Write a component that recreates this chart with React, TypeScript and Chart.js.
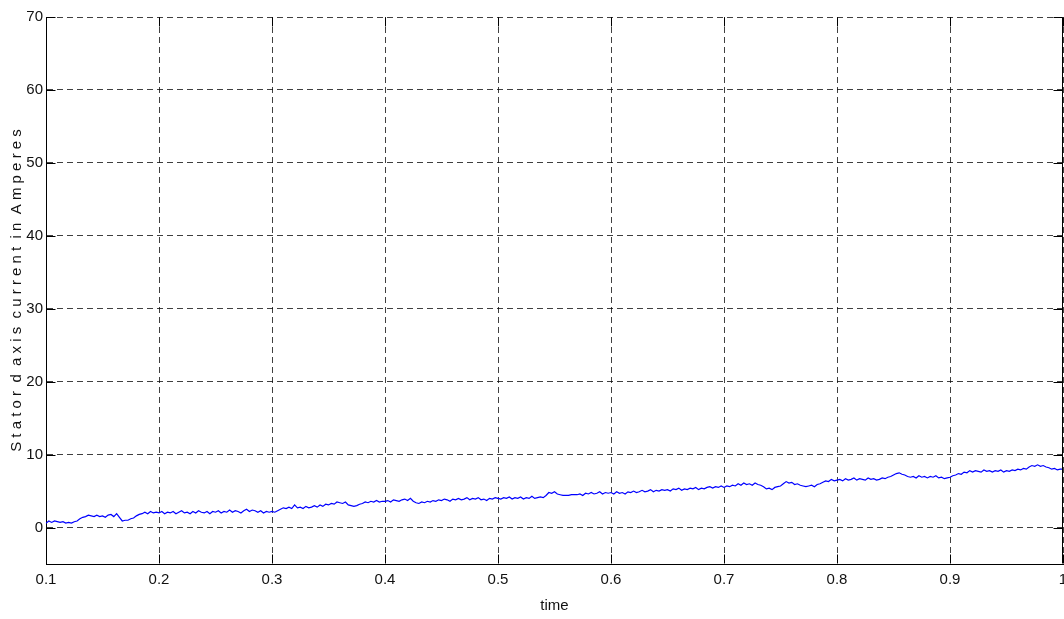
import React, { useEffect, useRef } from "react";
import { Chart, registerables } from "chart.js";

Chart.register(...registerables);

// sampling of the recorded signal (time axis)
const timeStart = 0.1;
const timeStep = 0.0025;

// Stator d-axis current (A), one row per 0.05 s
const currentValues: number[] = [
  0.6, 0.9, 0.7, 0.9, 0.8, 0.7, 0.8, 0.6, 0.7, 0.6, 0.8, 0.9, 1.2, 1.4, 1.5, 1.7, 1.6, 1.5, 1.7, 1.5,
  1.6, 1.4, 1.7, 1.8, 1.5, 1.9, 1.4, 0.9, 1.0, 1.0, 1.2, 1.3, 1.6, 1.8, 1.9, 2.1, 1.9, 2.2, 2.0, 2.1,
  2.0, 2.2, 1.9, 2.1, 2.0, 2.2, 1.9, 2.1, 2.3, 2.0, 2.1, 1.9, 2.2, 2.0, 2.3, 2.1, 2.0, 2.2, 1.9, 2.2,
  2.1, 2.3, 2.0, 2.2, 2.1, 2.4, 2.1, 2.3, 2.2, 2.0, 2.3, 2.5, 2.2, 2.4, 2.3, 2.1, 2.3, 2.0, 2.2, 2.1,
  2.2, 2.1, 2.3, 2.5, 2.7, 2.6, 2.8, 2.6, 3.1, 2.7, 2.8, 2.6, 2.9, 2.7, 2.8, 3.0, 2.8, 3.1, 2.9, 3.2,
  3.1, 3.3, 3.2, 3.5, 3.4, 3.3, 3.5, 3.1, 3.0, 2.9, 3.0, 3.2, 3.3, 3.5, 3.4, 3.6, 3.5, 3.7, 3.5, 3.6,
  3.6, 3.7, 3.5, 3.8, 3.7, 3.6, 3.8, 3.9, 3.7, 4.0, 3.6, 3.4, 3.3, 3.5, 3.4, 3.6, 3.5, 3.7, 3.6, 3.8,
  3.7, 3.9, 3.8, 3.6, 3.9, 3.8, 4.0, 3.8, 3.9, 4.1, 3.8, 4.0, 3.9, 4.1, 3.8, 3.9, 3.7, 4.0, 3.9, 4.1,
  4.0, 3.9, 4.1, 4.0, 4.2, 3.9, 4.1, 4.0, 4.2, 3.9, 4.1, 4.0, 4.3, 4.0, 4.1, 4.2, 4.1, 4.4, 4.8, 4.7,
  4.9, 4.6, 4.5, 4.4, 4.4, 4.4, 4.5, 4.5, 4.5, 4.6, 4.4, 4.7, 4.6, 4.8, 4.6, 4.7, 4.9, 4.6, 4.8, 4.7,
  4.8, 4.6, 4.9, 4.7, 4.8, 4.6, 4.9, 4.8, 5.0, 4.8, 4.9, 5.1, 4.9, 5.0, 5.2, 4.9, 5.1, 5.0, 5.2, 5.1,
  5.2, 5.0, 5.3, 5.2, 5.4, 5.1, 5.3, 5.2, 5.4, 5.3, 5.5, 5.2, 5.4, 5.3, 5.5, 5.6, 5.4, 5.6, 5.5, 5.7,
  5.5, 5.7, 5.6, 5.8, 5.7, 6.0, 5.8, 6.1, 5.9, 6.0, 5.8, 6.1, 5.9, 5.8, 5.6, 5.3, 5.4, 5.2, 5.5, 5.6,
  5.7, 6.0, 6.3, 6.1, 6.2, 5.9, 6.0, 5.8, 5.7, 5.6, 5.7, 5.8, 5.6, 5.9, 6.0, 6.2, 6.4, 6.3, 6.6, 6.4,
  6.5, 6.6, 6.4, 6.7, 6.5, 6.6, 6.8, 6.5, 6.7, 6.6, 6.5, 6.8, 6.6, 6.7, 6.5, 6.6, 6.8, 6.7, 6.9, 7.0,
  7.2, 7.4, 7.5, 7.3, 7.2, 7.0, 6.9, 7.0, 6.8, 7.1, 6.9, 7.0, 6.8, 7.0, 6.9, 7.1, 6.8, 6.9, 6.7, 6.8,
  6.9, 7.1, 7.2, 7.4, 7.3, 7.6, 7.5, 7.8, 7.6, 7.8, 7.7, 7.6, 7.9, 7.7, 7.8, 7.6, 7.8, 7.7, 7.9, 7.6,
  7.8, 7.7, 7.9, 7.8, 8.0, 7.9, 8.1, 8.0, 8.3, 8.5, 8.4, 8.6, 8.4, 8.5, 8.3, 8.2, 8.0, 8.1, 7.9, 8.0,
  8.0,
];

const xTickValues = [0.1, 0.2, 0.3, 0.4, 0.5, 0.6, 0.7, 0.8, 0.9, 1.0];
const yTickValues = [0, 10, 20, 30, 40, 50, 60, 70];
const xMin = 0.1;
const xMax = 1.0;
const yMin = -5;
const yMax = 70;
const xTitle = "time";
const yTitle = "S t a t o r  d  a x i s  c u r r e n t  i n  A m p e r e s";

const FONT = "'Liberation Sans', Arial, Helvetica, sans-serif";

const framePlugin = {
  id: "matlabFrame",
  afterDraw(chart: any) {
    const { ctx, chartArea } = chart;
    const { left, right, top, bottom } = chartArea;
    const xs = chart.scales.x;
    const ys = chart.scales.y;
    const L = Math.round(left) + 0.5;
    const R = Math.round(right) - 0.5;
    const T = Math.round(top) + 0.5;
    const B = Math.round(bottom) - 0.5;
    ctx.save();
    ctx.strokeStyle = "#000";
    ctx.lineWidth = 1;
    ctx.setLineDash([]);
    ctx.beginPath();
    ctx.moveTo(R, T);
    ctx.lineTo(R, B);
    const tl = 9;
    for (const v of yTickValues) {
      const py = Math.round(ys.getPixelForValue(v)) + 0.5;
      ctx.moveTo(L, py);
      ctx.lineTo(L + tl, py);
      ctx.moveTo(R, py);
      ctx.lineTo(R - tl, py);
    }
    for (const v of xTickValues) {
      const px = Math.round(xs.getPixelForValue(v)) + 0.5;
      ctx.moveTo(px, B);
      ctx.lineTo(px, B - tl);
      ctx.moveTo(px, T);
      ctx.lineTo(px, T + tl);
    }
    ctx.stroke();
    ctx.restore();
  },
};

export default function App() {
  const canvasRef = useRef<HTMLCanvasElement | null>(null);

  useEffect(() => {
    const canvas = canvasRef.current;
    if (!canvas) return;
    const points = currentValues.map((v, i) => ({
      x: timeStart + i * timeStep,
      y: v,
    }));
    const chart = new Chart(canvas, {
      type: "line",
      data: {
        datasets: [
          {
            data: points,
            borderColor: "#0000ff",
            borderWidth: 1.2,
            pointRadius: 0,
            tension: 0,
            fill: false,
          },
        ],
      },
      options: {
        responsive: false,
        animation: false,
        parsing: false,
        normalized: true,
        layout: { padding: { top: 17, right: 17, left: 0, bottom: 0 } },
        plugins: {
          legend: { display: false },
          tooltip: { enabled: false },
        },
        scales: {
          x: {
            type: "linear",
            min: xMin,
            max: xMax,
            afterBuildTicks: (scale: any) => {
              scale.ticks = xTickValues.map((v) => ({ value: v }));
            },
            afterFit: (scale: any) => {
              scale.height = 55;
            },
            ticks: {
              autoSkip: false,
              maxRotation: 0,
              padding: 7,
              color: "#111",
              font: { family: FONT, size: 15 },
              callback: (value: any) => String(Number(Number(value).toFixed(1))),
            },
            grid: {
              color: "rgba(0,0,0,0.75)",
              lineWidth: 1,
              drawTicks: false,
            },
            border: { display: true, color: "#000", width: 1, dash: [6, 4] },
            title: {
              display: true,
              text: xTitle,
              color: "#111",
              font: { family: FONT, size: 15 },
              padding: { top: 0, bottom: 4 },
            },
          },
          y: {
            type: "linear",
            min: yMin,
            max: yMax,
            afterBuildTicks: (scale: any) => {
              scale.ticks = yTickValues.map((v) => ({ value: v }));
            },
            afterFit: (scale: any) => {
              scale.width = 46;
            },
            ticks: {
              padding: 3,
              color: "#111",
              font: { family: FONT, size: 15 },
            },
            grid: {
              color: "rgba(0,0,0,0.75)",
              lineWidth: 1,
              drawTicks: false,
            },
            border: { display: true, color: "#000", width: 1, dash: [6, 4] },
            title: {
              display: true,
              text: yTitle,
              color: "#111",
              font: { family: FONT, size: 15 },
              padding: { top: 8, bottom: 0 },
            },
          },
        },
      },
      plugins: [framePlugin],
    });
    return () => chart.destroy();
  }, []);

  return (
    <div
      style={{
        position: "absolute",
        left: 0,
        top: 0,
        width: 1064,
        height: 619,
        overflow: "hidden",
        background: "#fff",
      }}
    >
      <canvas ref={canvasRef} width={1080} height={619} style={{ display: "block" }} />
    </div>
  );
}
